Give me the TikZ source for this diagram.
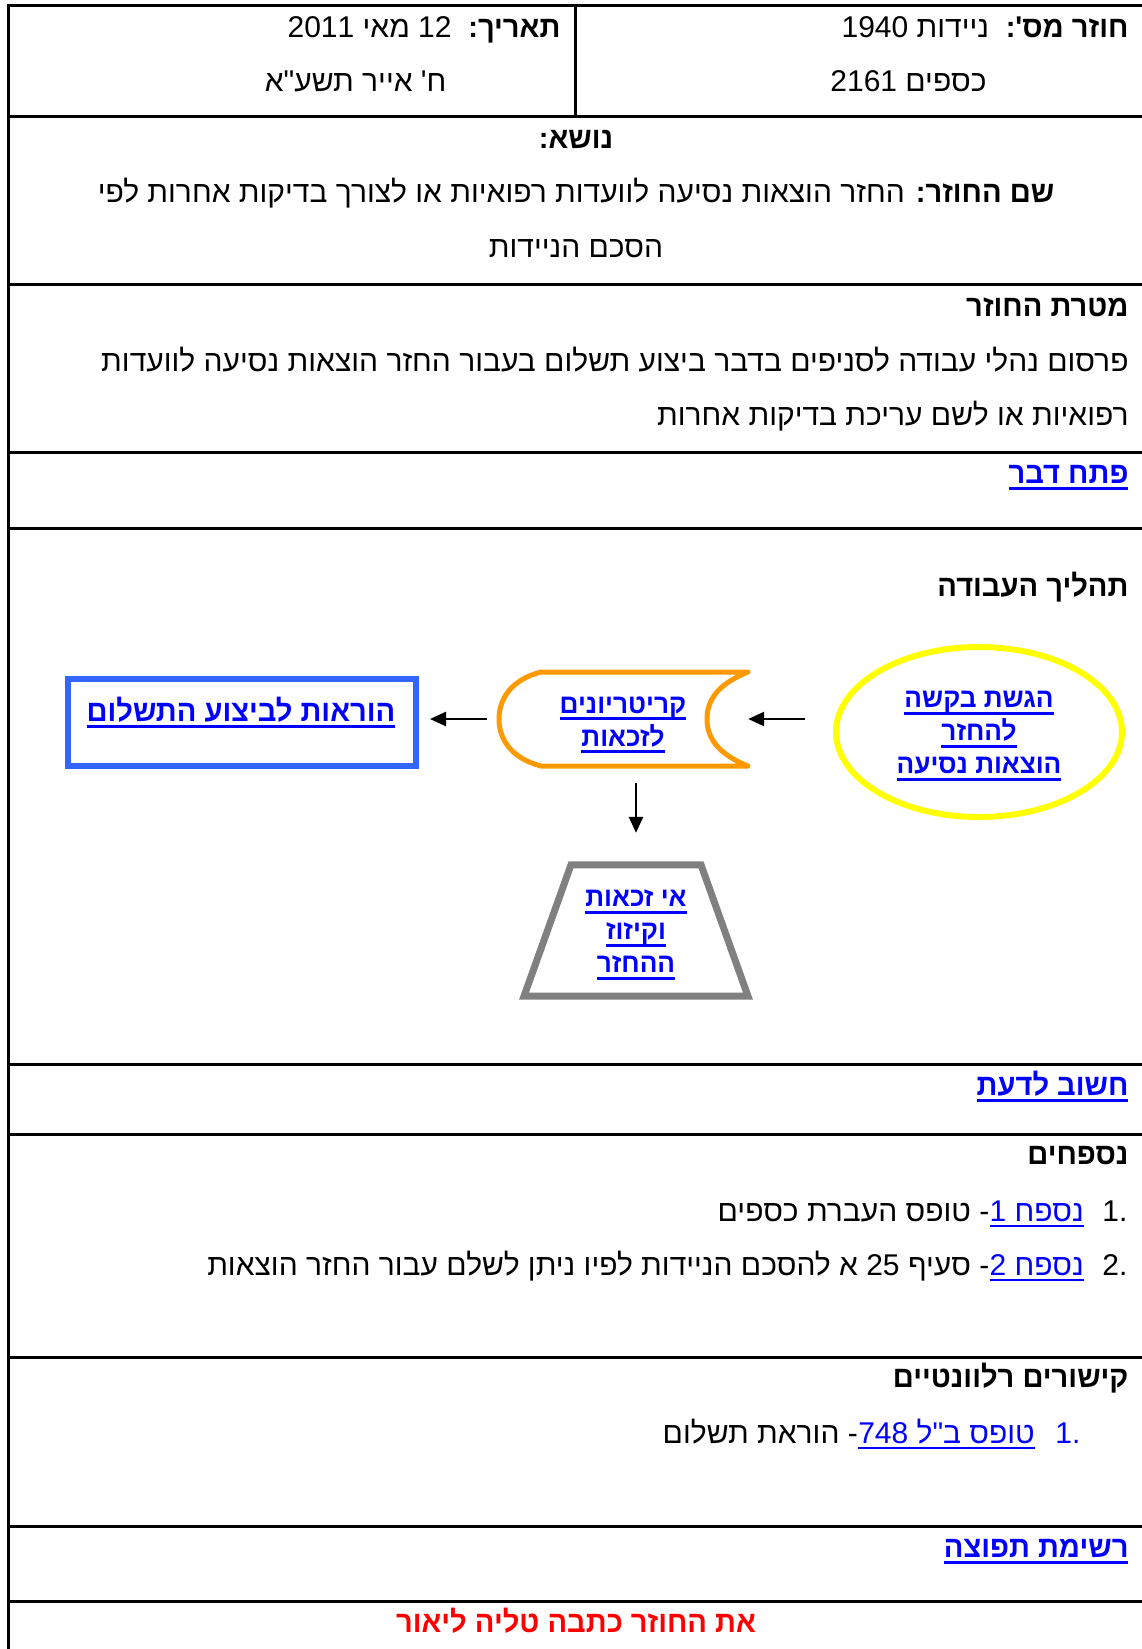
\documentclass[tikz,border=0pt]{standalone}
\usepackage{fontspec}
\setmainfont[Script=Hebrew,Ligatures=TeXOff,BoldFeatures={FakeStretch=0.97}]{Liberation Sans}
\usetikzlibrary{arrows.meta,shapes.geometric}
\TeXXeTstate=1

\definecolor{linkblue}{RGB}{0,0,255}
\definecolor{boxblue}{RGB}{51,102,255}
\definecolor{scrollorange}{RGB}{255,153,0}
\definecolor{reqyellow}{RGB}{255,255,0}
\definecolor{framegray}{RGB}{128,128,128}
\definecolor{signred}{RGB}{255,0,0}

\newcommand\bodyfont{\fontsize{30}{33.5}\selectfont}
\newcommand\chartfont{\fontsize{27}{33}\selectfont\bfseries}
\newcommand\heb[1]{\beginR#1\endR}
\newcommand\lnk[1]{\hbox{\setbox0\hbox{\beginR#1\endR}\rlap{\rule[-7pt]{\wd0}{3pt}}\box0}}
\newcommand\lnkthin[1]{\hbox{\setbox0\hbox{\beginR#1\endR}\rlap{\rule[-6pt]{\wd0}{2pt}}\box0}}

\begin{document}
\begin{tikzpicture}[x=1pt,y=-1pt,font=\bodyfont,
  rule/.style={line width=3pt},
  arr/.style={line width=2.5pt,-{Triangle[length=16pt,width=14pt]}},
  plain/.style={anchor=base east},
  head/.style={anchor=base east,font=\bodyfont\bfseries},
  linkhead/.style={anchor=base east,text=linkblue,font=\bodyfont\bfseries},
  listlink/.style={anchor=base east,text=linkblue,inner sep=0pt},
  chartlink/.style={text=linkblue,font=\chartfont,align=center,inner sep=0pt}]
\useasboundingbox (0,0) rectangle (1142,1649);

% table rules
\draw[rule] (8,5.5)--(1142,5.5);
\draw[rule] (8,116)--(1142,116);
\draw[rule] (8,284)--(1142,284);
\draw[rule] (8,452)--(1142,452);
\draw[rule] (8,528)--(1142,528);
\draw[rule] (8,1064)--(1142,1064);
\draw[rule] (8,1134.5)--(1142,1134.5);
\draw[rule] (8,1357)--(1142,1357);
\draw[rule] (8,1526)--(1142,1526);
\draw[rule] (8,1601)--(1142,1601);
\draw[rule] (8,4)--(8,1649);
\draw[rule] (575.5,5.5)--(575.5,116);

% header
\node[plain] (numlbl) at (1132,37) {\heb{\textbf{חוזר מס':}\ \ ניידות 1940}};
\node[plain] (numsub) at (990,91) {\heb{כספים 2161}};
\node[plain] (datelbl) at (564,37) {\heb{\textbf{תאריך:}\ \ 12 מאי 2011}};
\node[plain] (datesub) at (450,91) {\heb{ח' אייר תשע"א}};

\node[anchor=base,font=\bodyfont\bfseries] (subj) at (576,148) {\heb{נושא:}};
\node[anchor=base] (title) at (576,202) {\heb{\textbf{שם החוזר:} החזר הוצאות נסיעה לוועדות רפואיות או לצורך בדיקות אחרות לפי}};
\node[anchor=base] (title2) at (576,257) {\heb{הסכם הניידות}};

\node[head] (goal) at (1132,316) {\heb{מטרת החוזר}};
\node[plain] (goal1) at (1132,371) {\heb{פרסום נהלי עבודה לסניפים בדבר ביצוע תשלום בעבור החזר הוצאות נסיעה לוועדות}};
\node[plain] (goal2) at (1132,425) {\heb{רפואיות או לשם עריכת בדיקות אחרות}};

\node[linkhead] (intro) at (1132,483) {\lnk{פתח דבר}};
\node[head] (proc) at (1132,596) {\heb{תהליך העבודה}};

% flow chart
\node[ellipse,draw=reqyellow,line width=6pt,minimum width=286pt,minimum height=170pt] (req) at (979,732) {};
\node[chartlink] (reqtxt) at (979,736) {\lnk{הגשת בקשה}\\\lnk{להחזר}\\\lnk{הוצאות נסיעה}};
\node[minimum width=251pt,minimum height=94pt,inner sep=0pt] (crit) at (622.5,719) {};
\node[chartlink] (crittxt) at (623,725) {\lnk{קריטריונים}\\\lnk{לזכאות}};
\draw[scrollorange,line width=5pt,line join=round]
  (541,672)--(748,672) .. controls (718,684) and (707,700) .. (707,719)
  .. controls (707,738) and (718,754) .. (748,766)--(541,766)
  .. controls (510,758) and (499,738) .. (499,719)
  .. controls (499,700) and (510,680) .. (541,672)--cycle;
\node[draw=boxblue,line width=6pt,minimum width=348pt,minimum height=87pt,inner sep=0pt] (pay) at (242,722.5) {};
\node[anchor=base,text=linkblue,font=\bodyfont\bfseries] (paytxt) at (241,721) {\lnk{הוראות לביצוע התשלום}};
\node[minimum height=131pt,inner sep=0pt] (deny) at (636,930.5) {};
\node[chartlink] (denytxt) at (636,935) {\lnk{אי זכאות}\\\lnk{וקיזוז}\\\lnk{ההחזר}};
\draw[framegray,line width=7pt]
  ([xshift=-65pt]deny.north)--([xshift=65pt]deny.north)--([xshift=112pt]deny.south)--([xshift=-112pt]deny.south)--cycle;

\draw[arr,shorten <=28pt] (req.west |- crit.east)--(crit.east);
\draw[arr,shorten <=10pt,shorten >=11pt] (crit.west)--(pay.east |- crit.west);
\draw[arr,shorten <=17pt,shorten >=32pt] (deny.north |- crit.south)--(deny.north);

% lower rows
\node[linkhead] (note) at (1132,1095) {\lnk{חשוב לדעת}};
\node[head] (annex) at (1132,1164) {\heb{נספחים}};
\node[plain] (ax1num) at (1131,1221) {1\kern0pt.};
\node[listlink] (ax1link) at (1084,1221) {\lnkthin{נספח 1}};
\node[plain,inner sep=0pt] (ax1) at (ax1link.base west) {\heb{- טופס העברת כספים}};
\node[plain] (ax2num) at (1131,1275) {2\kern0pt.};
\node[listlink] (ax2link) at (1084,1275) {\lnkthin{נספח 2}};
\node[plain,inner sep=0pt] (ax2) at (ax2link.base west) {\heb{- סעיף 25 א להסכם הניידות לפיו ניתן לשלם עבור החזר הוצאות}};

\node[head] (links) at (1132,1387) {\heb{קישורים רלוונטיים}};
\node[plain,text=linkblue] (lk1num) at (1084,1443) {1\kern0pt.};
\node[listlink] (lk1link) at (1035,1443) {\lnkthin{טופס ב"ל 748}};
\node[plain,inner sep=0pt] (lk1) at (lk1link.base west) {\heb{- הוראת תשלום}};

\node[linkhead] (dist) at (1132,1557) {\lnk{רשימת תפוצה}};
\node[anchor=base,text=signred,font=\bodyfont\bfseries] (sign) at (576,1632) {\heb{את החוזר כתבה טליה ליאור}};
\end{tikzpicture}
\end{document}
